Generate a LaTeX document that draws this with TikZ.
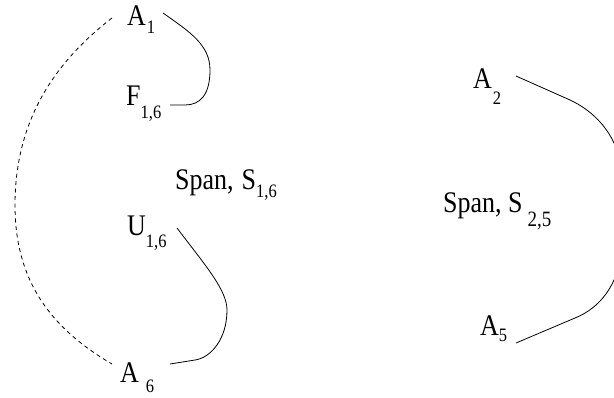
\documentclass[tikz,border=0pt]{standalone}
\usepackage{graphicx}
\usepackage{fontspec}
\setmainfont{Liberation Serif}
\newcommand\lsub[2]{\raisebox{-#1pt}{\fontsize{16.5}{17}\selectfont #2}}
\newcommand\bsub[2]{\raisebox{-#1pt}{\fontsize{19}{20}\selectfont #2}}
\newcommand\vstretch[1]{\scalebox{1}[1.15]{#1}}
\tikzset{
  lbl/.style={anchor=base west, inner sep=0pt, font=\fontsize{26}{28}\selectfont},
  link/.style={line width=0.8pt},
  dlink/.style={line width=0.8pt, dash pattern=on 4pt off 3.5pt}
}
\begin{document}
\begin{tikzpicture}[x=1pt,y=-1pt]
\useasboundingbox (0,0) rectangle (614,397);
\clip (0,0) rectangle (614,397);
% labels
\node[lbl] (A1) at (127,25) {\vstretch{A\hspace{1pt}\lsub{7}{1}}};
\node[lbl] (F16) at (126,105) {\vstretch{F\lsub{12}{1,6}}};
\node[lbl] (S16) at (175,189) {\vstretch{Span,\hspace{8pt}S\lsub{7}{1,6}}};
\node[lbl] (U16) at (127,235) {\vstretch{U\lsub{11}{1,6}}};
\node[lbl] (A6) at (120,382) {\vstretch{A\hspace{7pt}\lsub{9}{6}}};
\node[lbl] (A2) at (473,88) {\vstretch{A\hspace{1pt}\lsub{14}{2}}};
\node[lbl] (S25) at (443,212) {\vstretch{Span, S\hspace{5pt}\bsub{13}{2,5}}};
\node[lbl] (A5) at (480,335) {\vstretch{A\lsub{6}{5}}};
% connector end points
\coordinate (a1r) at (163,13);
\coordinate (f16r) at (170,105);
\coordinate (u16r) at (177,228);
\coordinate (a6r) at (170,364);
\coordinate (a1l) at (112,18);
\coordinate (a6l) at (112,364);
\coordinate (a2r) at (516,76);
\coordinate (a5r) at (516,343);
% curves
\draw[link] (a1r) .. controls (190,32) and (210,45) .. (210,70)
  .. controls (210,95) and (200,105) .. (185,105) -- (f16r);
\draw[link] (u16r) .. controls (205,265) and (227,290) .. (227,310)
  .. controls (227,340) and (210,358) .. (195,360) -- (a6r);
\draw[dlink] (a1l) .. controls (55,62) and (15,120) .. (15,205)
  .. controls (15,275) and (45,325) .. (a6l);
\draw[link] (a2r) -- (570,100) .. controls (600,114) and (618,140) .. (622,170)
  -- (622,250) .. controls (618,285) and (600,308) .. (575,318) -- (a5r);
\end{tikzpicture}
\end{document}
